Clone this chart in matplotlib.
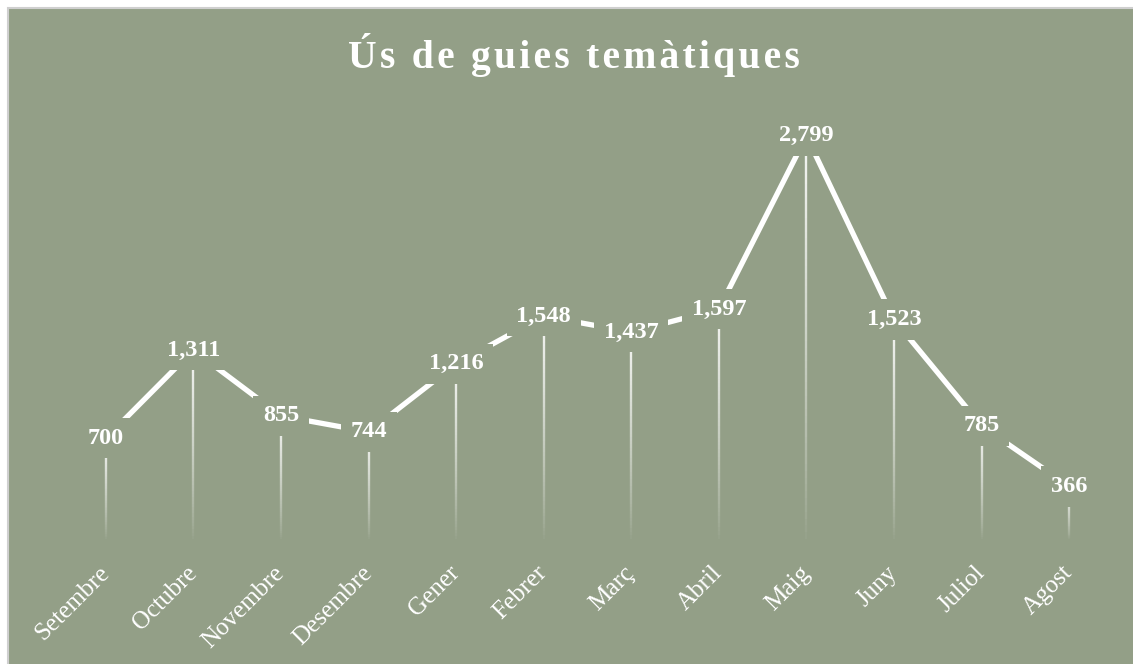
import numpy as np
import matplotlib
matplotlib.use("Agg")
import matplotlib.pyplot as plt
from matplotlib.collections import LineCollection
from matplotlib.patches import Rectangle

# Data
months = ["Setembre", "Octubre", "Novembre", "Desembre", "Gener", "Febrer",
          "Març", "Abril", "Maig", "Juny", "Juliol", "Agost"]
values = [700, 1311, 855, 744, 1216, 1548, 1437, 1597, 2799, 1523, 785, 366]
title = "Ús de guies temàtiques"

bg = "#939f87"
serif = ["Liberation Serif", "DejaVu Serif"]

fig = plt.figure(figsize=(11.33, 6.64), dpi=100)
fig.patch.set_facecolor("white")
# green panel with grey frame on top/left
fig.patches.append(Rectangle((7.5 / 1133, -0.05), 1.1, 1 - 7.5 / 664 + 0.05,
                             transform=fig.transFigure, facecolor=bg,
                             edgecolor="#cfcfcf", linewidth=1.5, zorder=-5))

ax = fig.add_axes([62 / 1133, (664 - 539) / 664, (1113 - 62) / 1133, (539 - 107) / 664])
ax.set_facecolor("none")
ax.set_zorder(2)
x = np.arange(len(months))
ax.set_xlim(-0.5, len(months) - 0.5)
ax.set_ylim(0, 3000)

# drop lines fading towards the baseline
for xi, v in zip(x, values):
    ys = np.linspace(0, v, 60)
    segs = [[(xi, ys[i]), (xi, ys[i + 1])] for i in range(len(ys) - 1)]
    alphas = (ys[1:] / v) ** 0.8 * 0.9
    cols = [(1, 1, 1, a) for a in alphas]
    ax.add_collection(LineCollection(segs, colors=cols, linewidths=1.7, zorder=2))

ax.plot(x, values, color="white", lw=3.8, solid_capstyle="butt", zorder=3)

for xi, v in zip(x, values):
    ax.text(xi, v, f"{v:,}", ha="center", va="center", color="white",
            fontsize=17.5, fontweight="bold", family=serif, zorder=5,
            bbox=dict(boxstyle="square,pad=0.4", facecolor=bg, edgecolor="none"))

ax.set_xticks(x)
ax.set_xticklabels(months, rotation=45, ha="right", va="center",
                   rotation_mode="anchor", color="white", fontsize=18, family=serif)
ax.tick_params(axis="x", length=0, pad=22)
ax.set_yticks([])
for s in ax.spines.values():
    s.set_visible(False)

fig.text(574 / 1133, 1 - 55 / 664, "\u200a".join(title), ha="center", va="center",
         color="white", fontsize=28.5, fontweight="bold", family=serif)

fig.savefig("out.png", dpi=100, facecolor=fig.get_facecolor())
